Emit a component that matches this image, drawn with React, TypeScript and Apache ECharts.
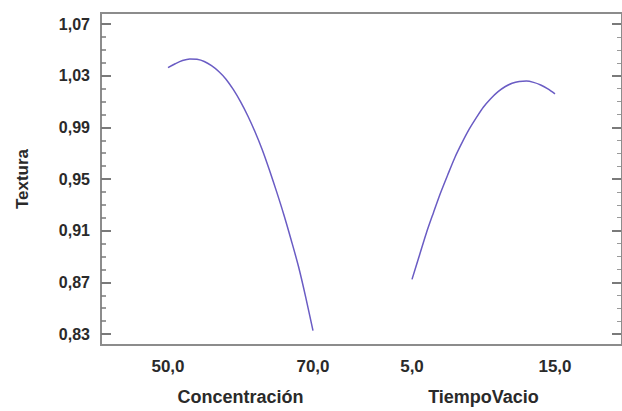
import React, { useEffect, useRef } from "react";
import * as echarts from "echarts";

// Main effects on Textura: one curve per factor, from its low to its high level
const concentracionX = [50, 51, 52, 53, 54, 55, 56, 57, 58, 59, 60, 61, 62, 63, 64, 65, 66, 67, 68, 69, 70];
const concentracionY = [
  1.036, 1.039, 1.0415, 1.0428, 1.0425, 1.0408, 1.0375, 1.033, 1.027, 1.019, 1.0095,
  0.9985, 0.986, 0.972, 0.956, 0.939, 0.921, 0.9015, 0.881, 0.857, 0.831,
];

const tiempoX = [5, 5.5, 6, 6.5, 7, 7.5, 8, 8.5, 9, 9.5, 10, 10.5, 11, 11.5, 12, 12.5, 13, 13.5, 14, 14.5, 15];
const tiempoY = [
  0.871, 0.889, 0.907, 0.923, 0.9385, 0.9525, 0.966, 0.9775, 0.988, 0.997, 1.0053,
  1.0118, 1.0171, 1.0211, 1.0238, 1.0252, 1.0255, 1.0245, 1.0225, 1.0195, 1.0156,
];

const yMin = 0.83;
const yMax = 1.07;
const yStep = 0.04;

const FONT = "'Liberation Sans', Arial, sans-serif";
const TEXT = "#2a2a2a";
const LINE = "#6a5cc4";
const FRAME = "#8c8c8c";

const comma = (d: number) => (v: number) => v.toFixed(d).replace(".", ",");

export default function App() {
  const ref = useRef<HTMLDivElement>(null);

  useEffect(() => {
    if (!ref.current) return;
    const chart = echarts.init(ref.current, null, { renderer: "svg" });

    const hiddenY = (gridIndex: number) => ({
      type: "value" as const,
      gridIndex,
      min: yMin,
      max: yMax,
      show: false,
    });

    const factorX = (gridIndex: number, min: number, max: number, name: string) => ({
      type: "value" as const,
      gridIndex,
      min,
      max,
      interval: max - min,
      name,
      nameLocation: "middle" as const,
      nameGap: 56,
      nameTextStyle: { fontFamily: FONT, fontWeight: "bold" as const, fontSize: 18, color: TEXT },
      axisLine: { show: false },
      axisTick: { show: false },
      splitLine: { show: false },
      axisLabel: {
        margin: 26,
        fontFamily: FONT,
        fontWeight: "bold" as const,
        fontSize: 17,
        color: TEXT,
        formatter: comma(1),
      },
    });

    chart.setOption({
      animation: false,
      backgroundColor: "#ffffff",
      grid: [
        // outer frame
        { left: 101, right: -3, top: 13, bottom: 66, show: true, borderColor: FRAME, borderWidth: 2, backgroundColor: "transparent" },
        // value scale shared by both factors
        { left: 101, right: 1, top: 24, bottom: 77 },
        // Concentración segment
        { left: 168, right: 309, top: 24, bottom: 77 },
        // TiempoVacio segment
        { left: 412, right: 67, top: 24, bottom: 77 },
      ],
      xAxis: [
        { type: "value", gridIndex: 0, show: false, min: 0, max: 1 },
        { type: "value", gridIndex: 1, show: false, min: 0, max: 1 },
        factorX(2, 50, 70, "Concentración"),
        factorX(3, 5, 15, "TiempoVacio"),
      ],
      yAxis: [
        { type: "value", gridIndex: 0, show: false, min: 0, max: 1 },
        {
          type: "value",
          gridIndex: 1,
          position: "left",
          min: yMin,
          max: yMax,
          interval: yStep,
          name: "Textura",
          nameLocation: "middle",
          nameGap: 70,
          nameTextStyle: { fontFamily: FONT, fontWeight: "bold", fontSize: 17, color: TEXT },
          axisLine: { show: false },
          axisTick: { show: true, inside: true, length: 10, lineStyle: { color: "#7a7a7a", width: 2 } },
          minorTick: { show: true, splitNumber: 4, length: 5, lineStyle: { color: "#7a7a7a", width: 1.5 } },
          splitLine: { show: false },
          axisLabel: {
            margin: 11,
            fontFamily: FONT,
            fontWeight: "bold",
            fontSize: 16,
            color: TEXT,
            formatter: comma(2),
          },
        },
        {
          type: "value",
          gridIndex: 1,
          position: "right",
          min: yMin,
          max: yMax,
          interval: yStep,
          axisLine: { show: false },
          axisTick: { show: true, inside: true, length: 9, lineStyle: { color: "#7a7a7a", width: 2 } },
          minorTick: { show: true, splitNumber: 4, length: 4, lineStyle: { color: "#9a9a9a", width: 1 } },
          splitLine: { show: false },
          axisLabel: { show: false },
        },
        hiddenY(2),
        hiddenY(3),
      ],
      series: [
        {
          type: "line",
          xAxisIndex: 2,
          yAxisIndex: 3,
          data: concentracionX.map((x, i) => [x, concentracionY[i]]),
          smooth: 0.3,
          showSymbol: false,
          lineStyle: { color: LINE, width: 1.5 },
        },
        {
          type: "line",
          xAxisIndex: 3,
          yAxisIndex: 4,
          data: tiempoX.map((x, i) => [x, tiempoY[i]]),
          smooth: 0.3,
          showSymbol: false,
          lineStyle: { color: LINE, width: 1.5 },
        },
      ],
    });

    return () => chart.dispose();
  }, []);

  return (
    <div
      ref={ref}
      style={{ position: "fixed", left: 0, top: 0, width: 622, height: 411, background: "#fff" }}
    />
  );
}
